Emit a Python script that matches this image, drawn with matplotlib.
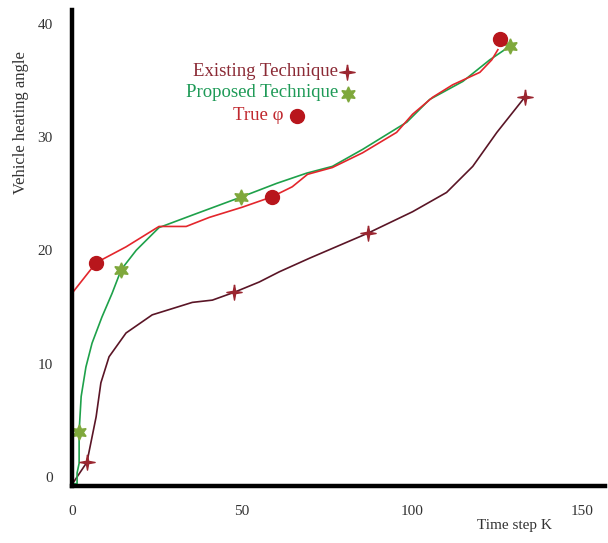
import matplotlib.pyplot as plt
from matplotlib.path import Path

plt.rcParams['font.family'] = ['Liberation Serif', 'DejaVu Serif']

# True phi (red)
true_x = [0, 7.1, 15.9, 25.6, 33.6, 40.4, 50.1, 58.7, 64.8, 69.3, 76.6, 85.5,
          95.5, 100.2, 106.1, 112.0, 120.0, 123.5, 125.3]
true_y = [16.2, 18.9, 20.3, 22.1, 22.1, 22.9, 23.8, 24.7, 25.6, 26.7, 27.3, 28.6,
          30.4, 32.0, 33.5, 34.6, 35.7, 36.8, 37.7]
true_mx = [7.1, 58.7, 125.9]
true_my = [18.9, 24.7, 38.6]

# Proposed technique (green)
prop_x = [0, 1.5, 1.5, 2.1, 2.1, 2.7, 4.1, 5.9, 8.8, 11.8, 14.5, 18.9, 25.6, 35.4,
          49.8, 60.2, 69.0, 76.6, 85.5, 98.5, 105.2, 115.0, 122.9, 128.8]
prop_y = [-0.6, -0.6, 0.35, 1.2, 4.0, 7.1, 9.7, 11.8, 14.1, 16.2, 18.3, 20.0, 22.0, 23.1,
          24.7, 25.9, 26.8, 27.4, 28.9, 31.3, 33.3, 34.9, 36.8, 38.0]
prop_mx = [2.1, 14.5, 49.8, 128.8]
prop_my = [4.0, 18.3, 24.7, 38.0]

# Existing technique (dark red)
exist_x = [0.6, 4.4, 7.1, 8.5, 10.9, 15.9, 23.6, 35.4, 41.3, 47.8, 55.1, 61.0, 69.9,
           87.0, 100.2, 110.2, 117.9, 125.0, 133.2]
exist_y = [-0.4, 1.3, 5.3, 8.3, 10.6, 12.7, 14.3, 15.4, 15.6, 16.3, 17.2, 18.1, 19.3,
           21.5, 23.4, 25.1, 27.4, 30.4, 33.5]
exist_mx = [4.4, 47.8, 87.0, 133.2]
exist_my = [1.3, 16.3, 21.5, 33.5]

# 4-point sparkle star
sparkle = Path([(0, 1), (0.15, 0.15), (1, 0), (0.15, -0.15), (0, -1),
                (-0.15, -0.15), (-1, 0), (-0.15, 0.15), (0, 1)])

c_true = '#e3262c'
c_prop = '#1ea14a'
c_exist = '#5a1526'

fig = plt.figure(figsize=(6.08, 5.43), dpi=100)
ax = fig.add_axes([0.1184, 0.105, 0.8766, 0.8766])

ax.plot(exist_x, exist_y, color=c_exist, lw=1.2)
ax.plot(prop_x, prop_y, color=c_prop, lw=1.2)
ax.plot(true_x, true_y, color=c_true, lw=1.2)

ax.plot(exist_mx, exist_my, ls='none', marker=sparkle, ms=11, color='#9b2630')
ax.plot(prop_mx, prop_my, ls='none', marker=(6, 1, 0), ms=11, color='#7fa83c')
ax.plot(true_mx, true_my, ls='none', marker='o', ms=10, color='#b8161c')

ax.set_xlim(0, 156.8)
ax.set_ylim(-0.8, 41.2)
ax.set_xticks([0, 50, 100, 150])
ax.set_yticks([0, 10, 20, 30, 40])
ax.tick_params(length=0, labelsize=11, labelcolor='#333333')
ax.tick_params(axis='x', pad=14)
ax.tick_params(axis='y', pad=14)
for s in ['top', 'right']:
    ax.spines[s].set_visible(False)
for s in ['left', 'bottom']:
    ax.spines[s].set_linewidth(3.2)
    ax.spines[s].set_color('black')

fig.text(0.035, 0.775, 'Vehicle heating angle', rotation=90, ha='center', va='center',
         fontsize=12, color='#333333')
fig.text(0.847, 0.033, 'Time step K', ha='center', va='center', fontsize=11, color='#333333')

# legend
fig.text(0.556, 0.869, 'Existing Technique', ha='right', va='center', fontsize=13.5, color='#8b2a35')
fig.text(0.556, 0.829, 'Proposed Technique', ha='right', va='center', fontsize=13.5, color='#1e9a57')
fig.text(0.466, 0.788, 'True \u03c6', ha='right', va='center', fontsize=13.5, color='#c0282e')
ax.plot([0.571], [0.867], transform=fig.transFigure, marker=sparkle, ms=11,
        color='#9b2630', clip_on=False)
ax.plot([0.572], [0.827], transform=fig.transFigure, marker=(6, 1, 0), ms=11,
        color='#7fa83c', clip_on=False)
ax.plot([0.489], [0.786], transform=fig.transFigure, marker='o', ms=10,
        color='#b8161c', clip_on=False)

fig.savefig('out.png', dpi=100)
